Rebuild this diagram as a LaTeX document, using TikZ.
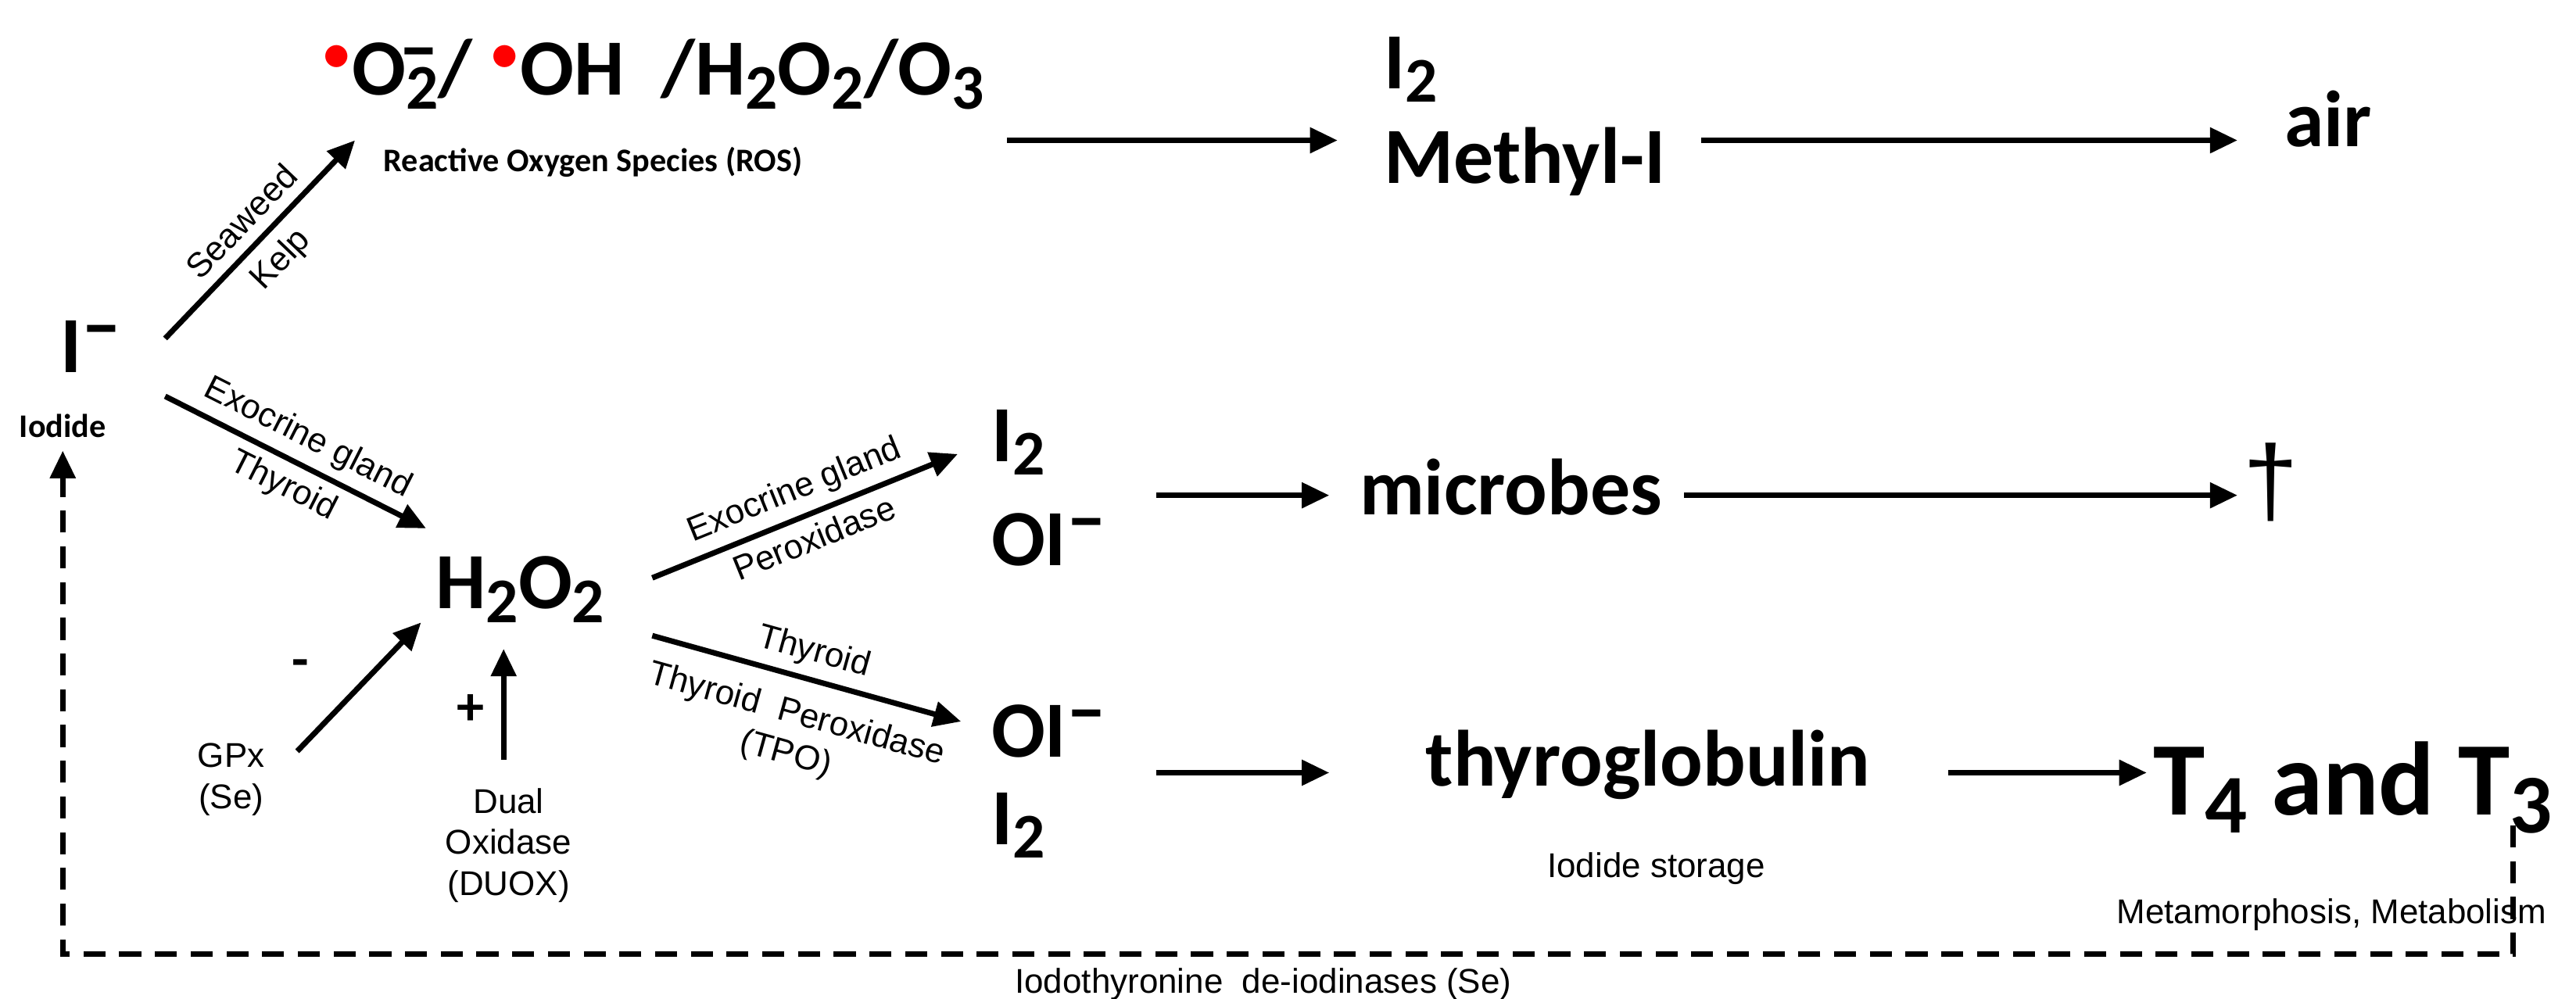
\documentclass[tikz,border=0pt]{standalone}
\usepackage{fontspec}
\setmainfont{Carlito}
\newfontfamily\arial{Liberation Sans}
\usetikzlibrary{arrows.meta}
\newcommand{\mn}{\raisebox{0.55ex}{–}}
\newcommand{\sbb}[1]{\raisebox{-0.35ex}{\fontsize{0.8em}{1em}\selectfont #1}}
\begin{document}
\begin{tikzpicture}[x=0.02112cm,y=-0.02112cm,
 big/.style={font=\fontsize{29}{32}\selectfont\bfseries,inner sep=0pt},
 sml/.style={font=\fontsize{12}{14}\selectfont\bfseries,inner sep=0pt},
 lab/.style={font=\arial\fontsize{12.5}{15}\selectfont,inner sep=1pt},
 arr/.style={line width=2pt,-{Triangle[length=10pt,width=9pt]}}]
\useasboundingbox (0,0) rectangle (1560,605);
\node[big] (I) at (55,210) {I\mn};
\node[sml] (iod) at (38,258) {Iodide};
\node[big,anchor=west] (ros) at (195,45) {\textcolor{red}{$^\bullet$}O\sbb{2}\hspace{-0.5em}\raisebox{0.55ex}{–}/ \textcolor{red}{$^\bullet$}OH\ \ /H\sbb{2}O\sbb{2}/O\sbb{3}};
\node[sml,anchor=west] (rosl) at (232,98) {Reactive Oxygen Species (ROS)};
\node[big,anchor=west] (I2a) at (838,42) {I\sbb{2}};
\node[big,anchor=west] (mi) at (838,98) {Methyl-I};
\node[big] (air) at (1410,72) {air};
\coordinate (rosE) at (610,85);
\draw[arr] (100,205) -- node[lab,sloped,above=3pt]{Seaweed} node[lab,sloped,below=3pt]{Kelp} (215,85);
\draw[arr] (rosE) -- (810,85);
\draw[arr] (1030,85) -- (1355,85);
\node[big] (h2o2) at (315,357) {H\sbb{2}O\sbb{2}};
\draw[arr] (100,240) -- node[lab,sloped,above=2pt]{Exocrine gland} node[lab,sloped,below=2pt]{Thyroid} (258,320);
\node[big,anchor=west] (I2b) at (600,268) {I\sbb{2}};
\node[big,anchor=west] (OIb) at (600,327) {OI\mn};
\draw[arr] (395,350) -- node[lab,sloped,above=2pt]{Exocrine gland} node[lab,sloped,below=2pt]{Peroxidase} (580,275);
\draw[arr] (700,300) -- (805,300);
\node[big] (mic) at (915,295) {microbes};
\draw[arr] (1020,300) -- (1355,300);
\node[font=\fontsize{36}{38}\selectfont,inner sep=0pt] (dag) at (1375,292) {\arial †};
\node[big,anchor=west] (OIc) at (600,443) {OI\mn};
\node[big,anchor=west] (I2c) at (600,500) {I\sbb{2}};
\draw[arr] (395,385) -- node[lab,sloped,above=2pt]{Thyroid} node[lab,sloped,below=6pt,align=center]{Thyroid\ \ Peroxidase\\(TPO)} (582,437);
\draw[arr] (700,468) -- (805,468);
\node[big] (thy) at (998,463) {thyroglobulin};
\node[lab] (st) at (1003,526) {Iodide storage};
\draw[arr] (1180,468) -- (1300,468);
\node[font=\fontsize{38}{40}\selectfont\bfseries,inner sep=0pt] (T) at (1425,477) {T\sbb{4} and T\sbb{3}};
\node[lab] (meta) at (1412,554) {Metamorphosis, Metabolism};
\node[lab,align=center] (gpx) at (140,472) {GPx\\(Se)};
\draw[arr] (180,455) -- (255,377);
\node[font=\fontsize{20}{20}\selectfont\bfseries] (minus) at (182,405) {-};
\node[font=\fontsize{20}{20}\selectfont\bfseries] (plus) at (285,430) {+};
\draw[arr] (305,460) -- (305,393);
\node[lab,align=center] (duox) at (308,512) {Dual\\Oxidase\\(DUOX)};
\coordinate (d1) at (1522,500);
\coordinate (d2) at (1522,578);
\coordinate (d3) at (38,578);
\draw[line width=2pt,dash pattern=on 8pt off 5pt,-{Triangle[length=10pt,width=9pt]}] (d1) -- (d2) -- (d3) -- (38,273);
\node[lab] (deio) at (765,596) {Iodothyronine\ \ de-iodinases (Se)};
\end{tikzpicture}
\end{document}
